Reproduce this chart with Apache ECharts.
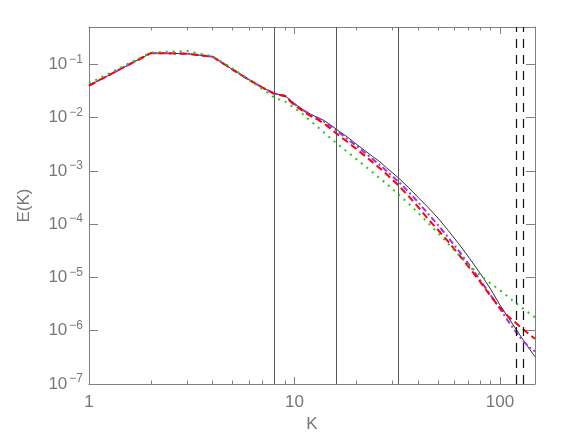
<!DOCTYPE html>
<html><head><meta charset="utf-8">
<script src="https://cdn.jsdelivr.net/npm/echarts@6/dist/echarts.min.js"></script>
<style>html,body{margin:0;padding:0;background:#fff}#c{width:561px;height:441px}</style>
</head><body><div id="c"></div>
<script>
// ---- data ----
const kValues = [1,2,3,4,5,6,7,8,9,10,11,12,13,14,15,16,18,20,22,24,26,28,32,36,40,45,50,56,63,71,80,90,100,110,120,130,140,148];
const eSolid = [3.98e-2,1.62e-1,1.58e-1,1.38e-1,7.94e-2,5.13e-2,3.63e-2,2.82e-2,2.57e-2,1.82e-2,1.41e-2,1.15e-2,1.00e-2,8.71e-3,7.24e-3,6.03e-3,4.37e-3,3.16e-3,2.40e-3,1.86e-3,1.48e-3,1.15e-3,7.41e-4,4.79e-4,3.16e-4,2.00e-4,1.29e-4,7.59e-5,4.27e-5,2.29e-5,1.20e-5,6.03e-6,3.02e-6,1.74e-6,1.05e-6,6.61e-7,4.37e-7,3.24e-7];
const eDashDot = [3.98e-2,1.62e-1,1.58e-1,1.38e-1,7.94e-2,5.13e-2,3.63e-2,2.82e-2,2.57e-2,1.78e-2,1.38e-2,1.12e-2,9.77e-3,8.32e-3,6.92e-3,5.75e-3,3.98e-3,2.95e-3,2.19e-3,1.66e-3,1.29e-3,1.00e-3,6.31e-4,3.98e-4,2.57e-4,1.51e-4,9.55e-5,5.62e-5,3.16e-5,1.70e-5,8.91e-6,4.68e-6,2.57e-6,1.48e-6,9.33e-7,6.31e-7,4.79e-7,4.07e-7];
const eDashed = [3.98e-2,1.62e-1,1.58e-1,1.38e-1,7.94e-2,5.13e-2,3.63e-2,2.75e-2,2.51e-2,1.70e-2,1.32e-2,1.06e-2,9.12e-3,7.59e-3,6.17e-3,5.01e-3,3.55e-3,2.57e-3,1.91e-3,1.45e-3,1.12e-3,8.71e-4,5.37e-4,3.31e-4,2.09e-4,1.20e-4,7.76e-5,4.68e-5,2.69e-5,1.51e-5,8.32e-6,4.47e-6,2.69e-6,1.82e-6,1.38e-6,1.05e-6,8.32e-7,7.08e-7];
const eDotted = [4.37e-2,1.66e-1,1.78e-1,1.41e-1,8.32e-2,5.13e-2,3.39e-2,2.34e-2,2.00e-2,1.51e-2,1.15e-2,8.51e-3,6.61e-3,5.13e-3,4.07e-3,3.31e-3,2.29e-3,1.66e-3,1.23e-3,9.33e-4,7.24e-4,5.75e-4,3.63e-4,2.40e-4,1.62e-4,1.02e-4,6.76e-5,4.27e-5,2.63e-5,1.66e-5,1.10e-5,7.76e-6,5.75e-6,4.27e-6,3.24e-6,2.57e-6,2.09e-6,1.78e-6];
const solidMarkers = [8,16,32];
const dashedMarkers = [120,130];
const xRange = [1,148];
const yRange = [1e-7,0.5];
const xMajorTicks = [1,10,100];
const xMinorTicks = [2,3,4,5,6,7,8,9,20,30,40,50,60,70,80,90];
const yMajorTicks = [1e-7,1e-6,1e-5,1e-4,1e-3,1e-2,1e-1];
const xTitle = 'K';
const yTitle = 'E(K)';

// ---- chart ----
const FONT = "'Liberation Sans', Arial, sans-serif";
const TXT = '#777';
const AX = '#808080';
const pairs = arr => kValues.map((k,i)=>[k,arr[i]]);

function xAxisDef(pos, ticks, len, withLabels, showLine) {
  return {
    type:'log', logBase:10, min:xRange[0], max:xRange[1], position:pos, gridIndex:0,
    axisLine:{show:showLine, lineStyle:{color:AX,width:1}},
    axisTick:{show:true, inside:true, length:len, customValues:ticks, lineStyle:{color:AX,width:1}},
    axisLabel:{show:withLabels, customValues:xMajorTicks, margin:10, color:TXT, fontFamily:FONT, fontSize:17,
      formatter: v => String(Math.round(v))},
    splitLine:{show:false}, minorTick:{show:false}, minorSplitLine:{show:false},
    name: withLabels && pos==='bottom' ? xTitle : '',
    nameLocation:'middle', nameGap:28,
    nameTextStyle:{color:TXT, fontFamily:FONT, fontSize:17}
  };
}
function yAxisDef(pos, withLabels) {
  return {
    type:'log', logBase:10, min:yRange[0], max:yRange[1], position:pos, gridIndex:0,
    axisLine:{show:true, lineStyle:{color:AX,width:1}},
    axisTick:{show:true, inside:true, length:9, customValues:yMajorTicks, lineStyle:{color:AX,width:1}},
    axisLabel:{show:withLabels, customValues:yMajorTicks, margin:6,
      formatter: v => { const e = Math.round(Math.log10(v)); return '{b|10}{s|\u2212' + Math.abs(e) + '}'; },
      rich:{
        b:{fontSize:17, lineHeight:22, color:TXT, fontFamily:FONT},
        s:{fontSize:12, lineHeight:12, color:TXT, fontFamily:FONT, verticalAlign:'top', padding:[0,0,0,2]}
      }},
    splitLine:{show:false}, minorTick:{show:false},
    name: withLabels ? yTitle : '', nameLocation:'middle', nameGap:56, nameRotate:90,
    nameTextStyle:{color:TXT, fontFamily:FONT, fontSize:17}
  };
}

const chart = echarts.init(document.getElementById('c'), null, {renderer:'canvas'});
chart.setOption({
  animation:false,
  backgroundColor:'#fff',
  grid:{left:89, right:26, top:27, bottom:57, containLabel:false},
  xAxis:[
    xAxisDef('bottom', xMajorTicks, 7, true, true),
    xAxisDef('bottom', xMinorTicks, 3.5, false, false),
    xAxisDef('top', xMajorTicks, 7, false, true),
    xAxisDef('top', xMinorTicks, 3.5, false, false)
  ],
  yAxis:[ yAxisDef('left', true), yAxisDef('right', false) ],
  series:[
    {type:'line', name:'solid', data:pairs(eSolid), xAxisIndex:0, yAxisIndex:0, showSymbol:false, symbol:'none',
      lineStyle:{color:'#333', width:1}, z:2,
      markLine:{silent:true, symbol:['none','none'], label:{show:false}, animation:false,
        data: solidMarkers.map(v=>({xAxis:v, lineStyle:{color:'#555', width:1, type:'solid'}}))
          .concat(dashedMarkers.map(v=>({xAxis:v, lineStyle:{color:'#111', width:1.2, type:[9,7]}})))
      }},
    {type:'line', name:'dashdot', data:pairs(eDashDot), showSymbol:false, symbol:'none',
      lineStyle:{color:'#a030f0', width:2, type:[6,3,2,3]}, z:3},
    {type:'line', name:'dashed', data:pairs(eDashed), showSymbol:false, symbol:'none',
      lineStyle:{color:'#ff0000', width:2, type:[7,4]}, z:4},
    {type:'line', name:'dotted', data:pairs(eDotted), showSymbol:false, symbol:'none',
      lineStyle:{color:'#1ccc1c', width:2, type:[2,5]}, z:5}
  ]
});
</script></body></html>
